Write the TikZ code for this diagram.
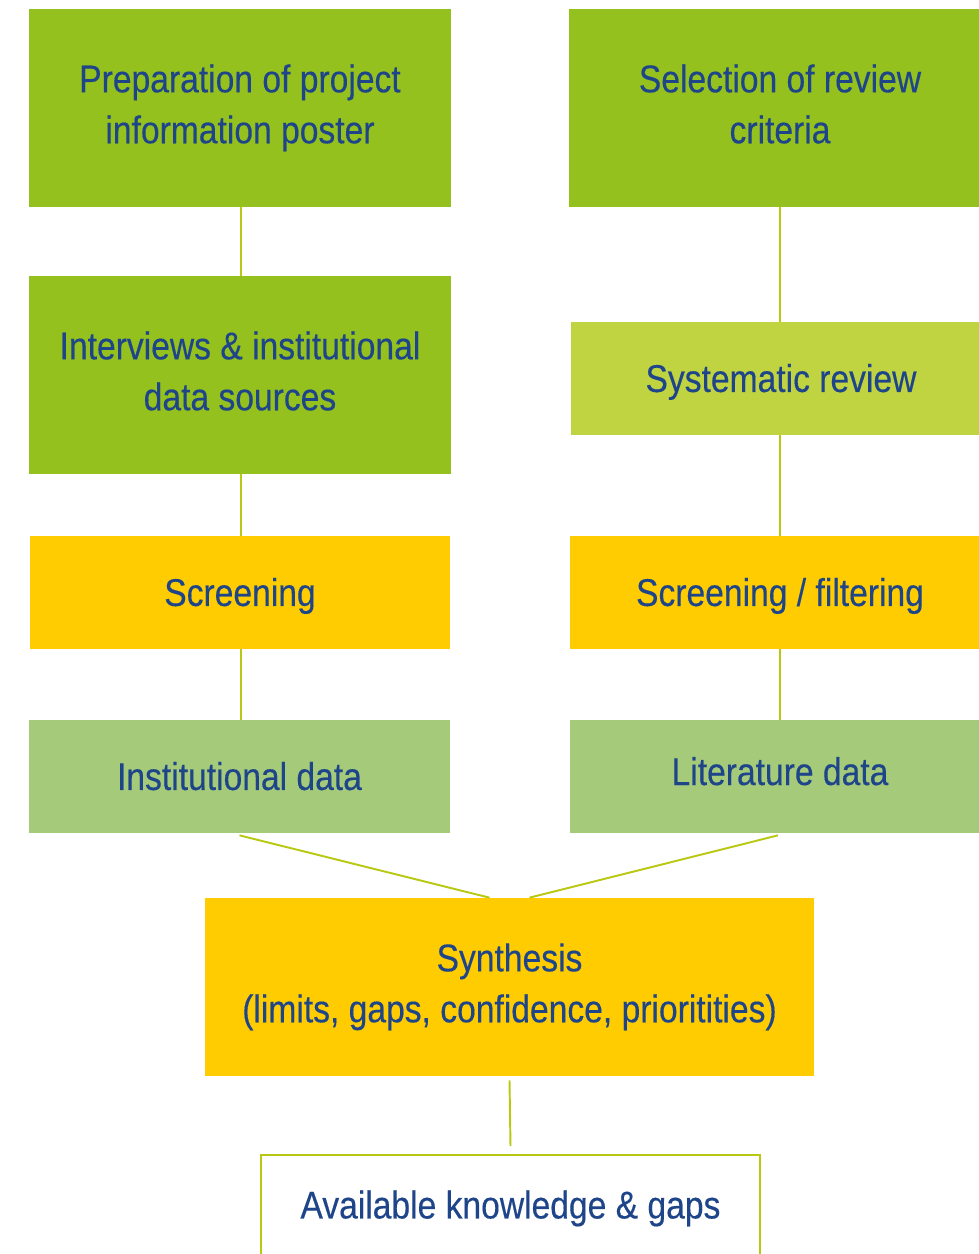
\documentclass[tikz,border=0pt]{standalone}
\usepackage{fontspec}
\setmainfont[FakeStretch=0.87,FakeBold=0.3]{Liberation Sans}
\usepackage{xcolor}
\usepackage{tikz}
\usetikzlibrary{positioning,calc}

\definecolor{boxgreen}{HTML}{95C11F}
\definecolor{boxlime}{HTML}{C0D340}
\definecolor{boxyellow}{HTML}{FECC00}
\definecolor{boxsage}{HTML}{A5CB7A}
\definecolor{txtblue}{HTML}{1E4589}
\definecolor{linkcol}{HTML}{B9C812}

\tikzset{
    stagebase/.style={rectangle, inner sep=0pt, align=center, text=txtblue,
        font=\fontsize{22}{29}\selectfont},
    stage/.style={stagebase,
        execute at begin node=\rule{0pt}{24pt}, execute at end node=\strut},
    stagetwo/.style={stagebase, execute at end node={\rule[-4.8pt]{0pt}{0pt}}},
    link/.style={draw=linkcol, line width=1.1pt}
}

\begin{document}
\begin{tikzpicture}[x=0.02cm, y=-0.02cm]
    \useasboundingbox (0,0) rectangle (979,1254);
    \clip (0,0) rectangle (979,1254);
    \coordinate (lc) at (241,0);
    \coordinate (rc) at (780,0);
    % left column
    \node[stagetwo, fill=boxgreen, minimum width=8.44cm, minimum height=3.96cm] (prep) at (240,108) {Preparation of project\\information poster};
    \node[stagetwo, fill=boxgreen, minimum width=8.44cm, minimum height=3.96cm] (intv) at (240,375) {Interviews \& institutional\\data sources};
    \node[stage, fill=boxyellow, minimum width=8.4cm, minimum height=2.26cm] (scrL) at (240,592.5) {Screening};
    \node[stage, fill=boxsage, minimum width=8.42cm, minimum height=2.26cm] (instd) at (239.5,776.5) {Institutional data};
    % right column (runs off the page)
    \node[stagetwo, fill=boxgreen, minimum width=8.44cm, minimum height=3.96cm] (sel) at (780,108) {Selection of review\\criteria};
    \node[stage, fill=boxlime, minimum width=8.4cm, minimum height=2.26cm] (sysrev) at (781,378.5) {Systematic review};
    \node[stage, fill=boxyellow, minimum width=8.4cm, minimum height=2.26cm] (scrR) at (780,592.5) {Screening / filtering};
    \node[stage, fill=boxsage, minimum width=8.4cm, minimum height=2.26cm] (litd) at (780,776.5) {\raisebox{2.8pt}{Literature data}};
    % bottom
    \node[stagetwo, fill=boxyellow, minimum width=12.18cm, minimum height=3.56cm] (synth) at (509.5,987) {Synthesis\\(limits, gaps, confidence, prioritities)};
    \node[stage, draw=linkcol, line width=0.9pt, fill=white, minimum width=9.98cm, minimum height=2cm] (avail) at (510.5,1205) {Available knowledge \& gaps};

    \draw[link] (prep.south -| lc) -- (intv.north -| lc);
    \draw[link] (intv.south -| lc) -- (scrL.north -| lc);
    \draw[link] (scrL.south -| lc) -- (instd.north -| lc);
    \draw[link] (sel.south -| rc) -- (sysrev.north -| rc);
    \draw[link] (sysrev.south -| rc) -- (scrR.north -| rc);
    \draw[link] (scrR.south -| rc) -- (litd.north -| rc);
    \draw[link] ($(instd.south)+(0,2)$) -- ($(synth.north)+(-20,0)$);
    \draw[link] ($(litd.south)+(-2,2)$) -- ($(synth.north)+(20,0)$);
    \draw[link] ($(synth.south)+(0,4)$) -- ($(avail.north)+(0,-8)$);
\end{tikzpicture}
\end{document}
